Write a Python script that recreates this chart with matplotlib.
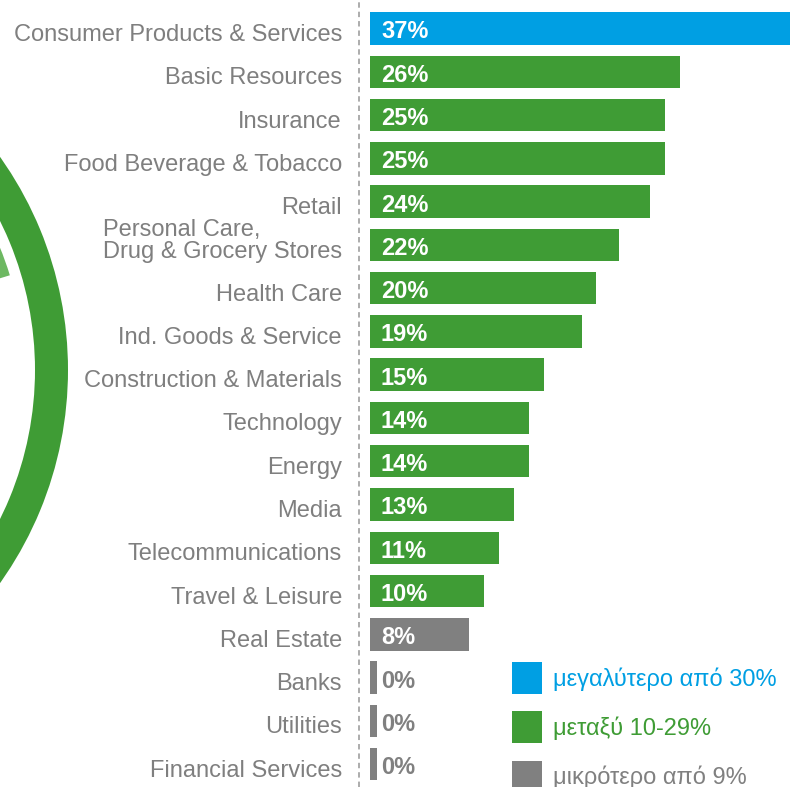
import matplotlib
matplotlib.use("Agg")
import matplotlib.pyplot as plt
from matplotlib.patches import Wedge, Rectangle

plt.rcParams["font.family"] = ["Liberation Sans", "DejaVu Sans"]

# --------------------------------------------------------------------------------------
# Data (top to bottom)
# --------------------------------------------------------------------------------------
categories = [
    "Consumer Products & Services", "Basic Resources", "Insurance",
    "Food Beverage & Tobacco", "Retail", "Personal Care,\nDrug & Grocery Stores",
    "Health Care", "Ind. Goods & Service", "Construction & Materials", "Technology",
    "Energy", "Media", "Telecommunications", "Travel & Leisure", "Real Estate",
    "Banks", "Utilities", "Financial Services",
]
pct_labels = [37, 26, 25, 25, 24, 22, 20, 19, 15, 14, 14, 13, 11, 10, 8, 0, 0, 0]
# bar lengths as drawn (in %)
bar_lengths = [37.0, 26.7, 25.4, 25.4, 24.1, 21.5, 19.5, 18.3, 15.0, 13.7, 13.7,
               12.4, 11.1, 9.8, 8.5, 0.0, 0.0, 0.0]
legend_labels = ["μεγαλύτερο από 30%", "μεταξύ 10-29%", "μικρότερο από 9%"]

BLUE = "#009FE3"
GREEN = "#3F9C35"
GREY = "#808080"
LIGHT_GREEN = "#6DB862"
TEXT_GREY = "#7F7F7F"


def bucket_color(p):
    if p >= 30:
        return BLUE
    if p >= 10:
        return GREEN
    return GREY


W, H = 790, 787
PX_PER_PCT = 11.6
X0 = 370                      # left edge of the bars in pixels
ROW0, ROW_STEP = 28.5, 43.27  # pixel centre of the first row, row spacing
STUB = 0.6                    # minimum visible width for 0% bars
FS = 17

fig = plt.figure(figsize=(W / 100, H / 100), dpi=100)

# background axes in pixel coordinates (ring + legend)
bg = fig.add_axes([0, 0, 1, 1])
bg.set_xlim(0, W)
bg.set_ylim(H, 0)
bg.axis("off")
bg.add_patch(Wedge((-300, 370), 368, 0, 360, width=33, color=GREEN, lw=0))
bg.add_patch(Wedge((-300, 370), 324, -60, -17.0, width=28, color=LIGHT_GREEN, lw=0))

legend_colors = [BLUE, GREEN, GREY]
for k, (lab, col) in enumerate(zip(legend_labels, legend_colors)):
    top = 662 + 49.3 * k
    bg.add_patch(Rectangle((512, top), 30, 31.5, color=col, lw=0))
    bg.text(553, top + 17, lab, color=col, fontsize=FS, ha="left", va="center")

# bars axes
ax = fig.add_axes([X0 / W, 0, (W - X0) / W, 1])
ax.patch.set_visible(False)
n = len(categories)
ax.set_xlim(0, (W - X0) / PX_PER_PCT)
ax.set_ylim((H - ROW0) / ROW_STEP, -ROW0 / ROW_STEP)
ax.axis("off")

widths = [max(v, STUB) for v in bar_lengths]
colors = [bucket_color(p) for p in pct_labels]
ax.barh(range(n), widths, height=0.75, color=colors, lw=0)

for i, (cat, p) in enumerate(zip(categories, pct_labels)):
    y = i + 0.15
    if "\n" in cat:
        y = i - 0.08
    ax.text(-28 / PX_PER_PCT, y, cat, ha="right", va="center", fontsize=FS,
            color=TEXT_GREY, multialignment="left", linespacing=1.0)
    ax.text(11 / PX_PER_PCT, i + 0.08, f"{p}%", ha="left", va="center", fontsize=FS,
            fontweight="bold", color="white" if p > 0 else GREY)

ax.axvline(-11 / PX_PER_PCT, color="#A6A6A6", lw=1.3, ls=(0, (3, 2.2)), clip_on=False)

fig.savefig("out.png", dpi=100)
